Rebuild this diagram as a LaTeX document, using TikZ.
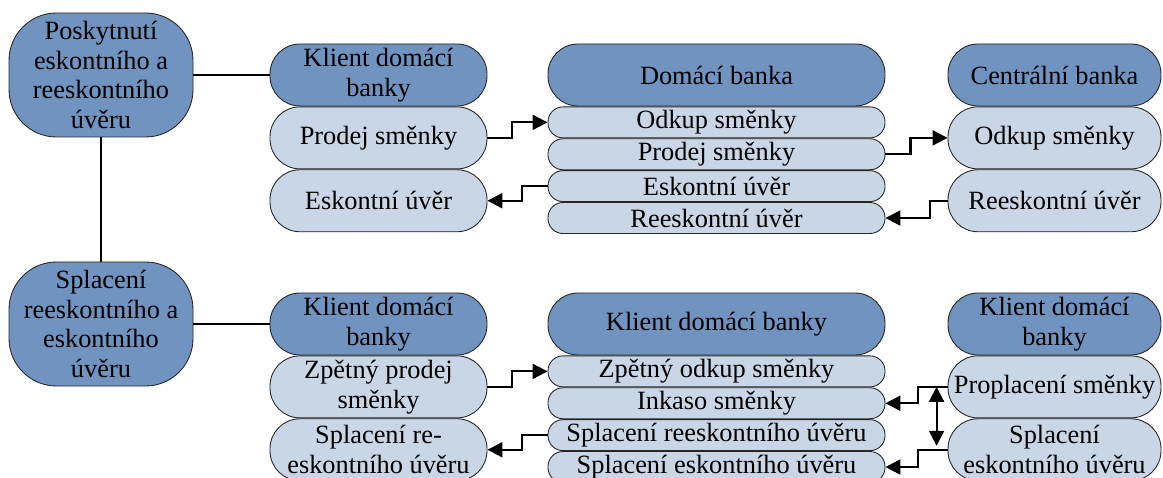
\documentclass[tikz,border=0pt]{standalone}
\usepackage{fontspec}
\setmainfont{Liberation Serif}
\usepackage{tikz}
\usepackage{xcolor}
\usetikzlibrary{positioning,arrows.meta}

\definecolor{headblue}{RGB}{113,147,192}
\definecolor{rowblue}{RGB}{201,214,230}

\tikzset{
  box/.style={draw=black!85, line width=0.5pt, align=center, inner sep=0pt,
    font={\fontsize{15}{17}\selectfont}},
  topic/.style={box, fill=headblue, rounded corners=0.95cm, minimum width=3.68cm, minimum height=2.48cm},
  head/.style={box, fill=headblue, rounded corners=0.6cm, minimum height=1.24cm},
  tall/.style={box, fill=rowblue, rounded corners=0.6cm, minimum height=1.24cm},
  slim/.style={box, fill=rowblue, rounded corners=0.3cm, minimum height=0.62cm},
  colA/.style={minimum width=4.34cm},
  colB/.style={minimum width=6.74cm},
  colC/.style={minimum width=4.26cm},
  link/.style={line width=1.2pt},
  tip/.tip={Triangle[length=0.3cm,width=0.3cm]},
  flow/.style={line width=1.2pt, -tip},
}

\begin{document}
\begin{tikzpicture}
    \useasboundingbox (0,0) rectangle (23.26,-9.56);
    % poskytnuti
    \node[topic] (posk) at (2.02,-1.5) {Poskytnutí\\eskontního a\\reeskontního\\úvěru};
    \node[head,colA] (klA) at (7.57,-1.5) {Klient domácí\\banky};
    \node[tall,colA,below=0pt of klA] (prodA) {Prodej směnky};
    \node[tall,colA,below=0pt of prodA] (eskA) {Eskontní úvěr};
    \node[head,colB] (domB) at (14.33,-1.5) {Domácí banka};
    \node[slim,colB,below=0pt of domB] (odkB) {Odkup směnky};
    \node[slim,colB,below=0pt of odkB] (prodB) {Prodej směnky};
    \node[slim,colB,below=0pt of prodB] (eskB) {Eskontní úvěr};
    \node[slim,colB,below=0pt of eskB] (reeskB) {Reeskontní úvěr};
    \node[head,colC] (cenC) at (21.09,-1.5) {Centrální banka};
    \node[tall,colC,below=0pt of cenC] (odkC) {Odkup směnky};
    \node[tall,colC,below=0pt of odkC] (reeskC) {Reeskontní úvěr};
    \draw[link] (posk) -- (klA);
    \draw[flow] (prodA.east) -- ++(0.5,0) |- (odkB.west);
    \draw[flow] (eskB.west) -- ++(-0.52,0) |- (eskA.east);
    \draw[flow] (prodB.east) -- ++(0.5,0) |- (odkC.west);
    \draw[flow] (reeskC.west) -- ++(-0.36,0) |- (reeskB.east);

    % splaceni
    \node[topic] (splac) at (2.02,-6.48) {Splacení\\reeskontního a\\eskontního\\úvěru};
    \node[head,colA] (klD) at (7.57,-6.48) {Klient domácí\\banky};
    \node[tall,colA,below=0pt of klD] (zprodD) {Zpětný prodej\\směnky};
    \node[tall,colA,below=0pt of zprodD] (splrD) {Splacení re-\\eskontního úvěru};
    \node[head,colB] (klE) at (14.33,-6.48) {Klient domácí banky};
    \node[slim,colB,below=0pt of klE] (zodkE) {Zpětný odkup směnky};
    \node[slim,colB,below=0pt of zodkE] (inkE) {Inkaso směnky};
    \node[slim,colB,below=0pt of inkE] (splrE) {Splacení reeskontního úvěru};
    \node[slim,colB,below=0pt of splrE] (spleE) {Splacení eskontního úvěru};
    \node[head,colC] (klF) at (21.09,-6.48) {Klient domácí\\banky};
    \node[tall,colC,below=0pt of klF] (proplF) {Proplacení směnky};
    \node[tall,colC,below=0pt of proplF] (spleF) {Splacení\\eskontního úvěru};
    \draw[link] (splac) -- (klD);
    \draw[link] (posk) -- (splac);
    \draw[flow] (zprodD.east) -- ++(0.5,0) |- (zodkE.west);
    \draw[flow] (splrE.west) -- ++(-0.52,0) |- (splrD.east);
    \draw[flow] (proplF.west) -- ++(-0.6,0) |- (inkE.east);
    \draw[flow] (spleF.west) -- ++(-0.6,0) |- (spleE.east);
    \draw[flow,tip-tip]
      ([xshift=-0.22cm]proplF.west) -- ([xshift=-0.22cm,yshift=0.08cm]spleF.west);
  \end{tikzpicture}
\end{document}
